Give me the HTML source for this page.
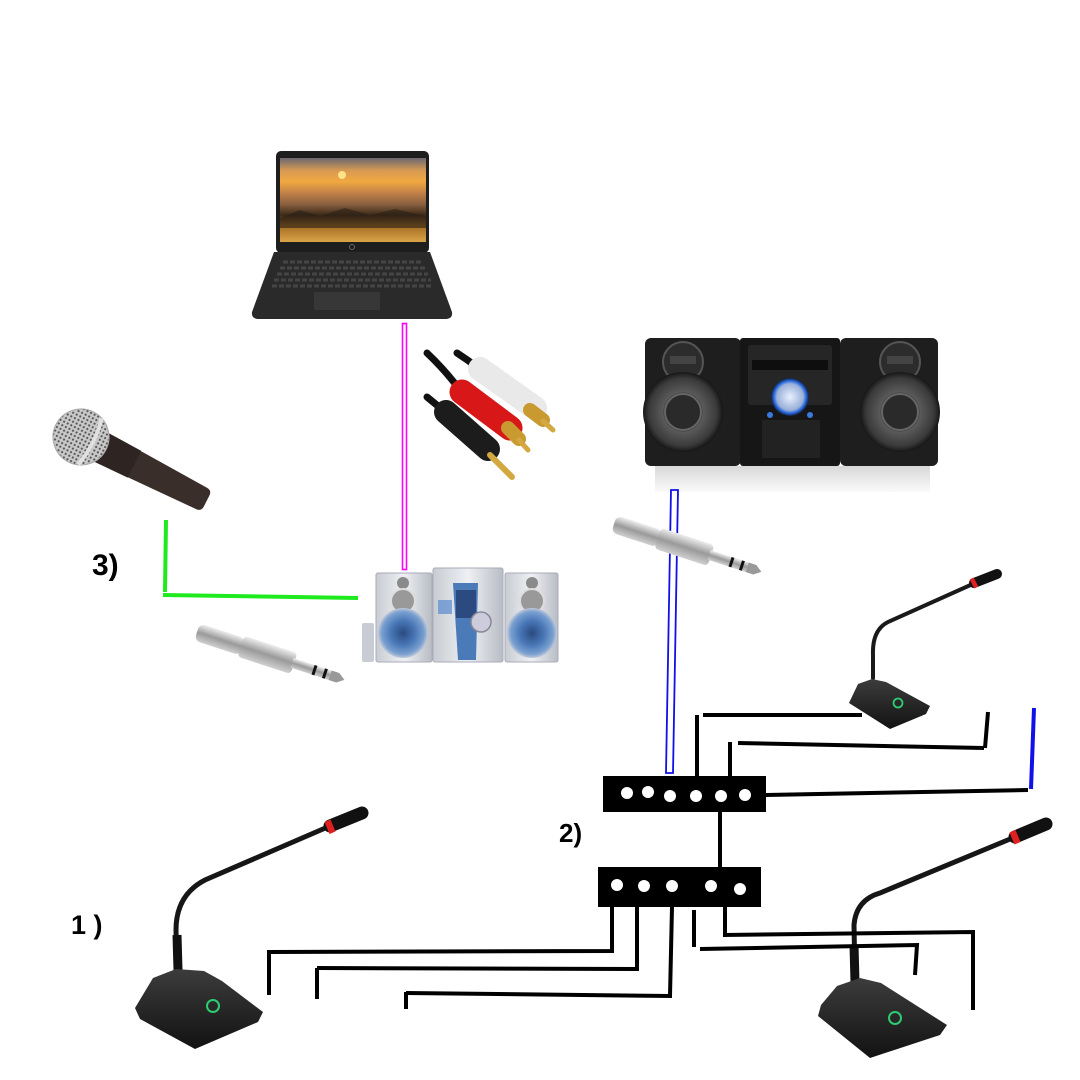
<!DOCTYPE html>
<html><head><meta charset="utf-8"><style>
html,body{margin:0;padding:0;background:#fff;}
svg{display:block;}
text{font-family:"Liberation Sans",sans-serif;font-weight:bold;fill:#000;}
</style></head><body>
<svg width="1080" height="1080" viewBox="0 0 1080 1080" xmlns="http://www.w3.org/2000/svg">
<defs>
<linearGradient id="scr" x1="0" y1="0" x2="0" y2="1">
<stop offset="0" stop-color="#6a6870"/><stop offset="0.15" stop-color="#d89a52"/><stop offset="0.28" stop-color="#f0a840"/>
<stop offset="0.42" stop-color="#c08048"/><stop offset="0.55" stop-color="#8a6040"/><stop offset="0.68" stop-color="#3a2a18"/>
<stop offset="0.8" stop-color="#a06a22"/><stop offset="1" stop-color="#dca448"/></linearGradient>
<linearGradient id="base" x1="0" y1="0" x2="0" y2="1"><stop offset="0" stop-color="#3c3c3c"/><stop offset="1" stop-color="#121212"/></linearGradient>
<linearGradient id="silver" x1="0" y1="0" x2="0" y2="1"><stop offset="0" stop-color="#eeeeee"/><stop offset="0.5" stop-color="#9a9a9a"/><stop offset="1" stop-color="#d0d0d0"/></linearGradient>
<linearGradient id="ss" x1="0" y1="0" x2="1" y2="0"><stop offset="0" stop-color="#c8ccd2"/><stop offset="0.5" stop-color="#eef0f4"/><stop offset="1" stop-color="#b8bcc4"/></linearGradient>
<radialGradient id="woof" cx="0.5" cy="0.5" r="0.5"><stop offset="0" stop-color="#2a4a80"/><stop offset="0.5" stop-color="#4a78b8"/><stop offset="0.85" stop-color="#7aa0d0"/><stop offset="1" stop-color="#c0c8d8"/></radialGradient>
<radialGradient id="bw" cx="0.5" cy="0.5" r="0.5"><stop offset="0" stop-color="#1a1a1a"/><stop offset="0.45" stop-color="#222"/><stop offset="0.5" stop-color="#5a5a5a"/><stop offset="0.85" stop-color="#3a3a3a"/><stop offset="1" stop-color="#161616"/></radialGradient>
<radialGradient id="knob" cx="0.5" cy="0.5" r="0.5"><stop offset="0" stop-color="#e8f0ff"/><stop offset="0.7" stop-color="#9ab0d8"/><stop offset="0.85" stop-color="#2a6ae0"/><stop offset="1" stop-color="#102040"/></radialGradient>
<pattern id="mesh" width="4" height="4" patternUnits="userSpaceOnUse"><rect width="4" height="4" fill="#c8c8c8"/><circle cx="2" cy="2" r="1.1" fill="#555"/></pattern>
<linearGradient id="refl" x1="0" y1="0" x2="0" y2="1"><stop offset="0" stop-color="#d8d8d8"/><stop offset="1" stop-color="#fafafa"/></linearGradient>
</defs>
<rect width="1080" height="1080" fill="#fff"/>

<!-- Laptop -->
<rect x="276" y="151" width="153" height="102" rx="5" fill="#1e1e1e"/>
<rect x="280" y="158" width="146" height="84" fill="url(#scr)"/>
<circle cx="342" cy="175" r="4" fill="#ffe38a"/>
<path d="M280 218 L300 210 L320 216 L345 208 L370 215 L395 209 L426 216 L426 228 L280 228 Z" fill="#2a2015" opacity="0.6"/>
<circle cx="352" cy="247" r="2.5" fill="none" stroke="#777" stroke-width="0.8"/>
<path d="M274 252 L430 252 L452 312 Q453 319 445 319 L259 319 Q251 319 252 312 Z" fill="#2a2a2a"/>
<g stroke="#454545" stroke-width="3" stroke-dasharray="5 2">
<line x1="283" y1="262" x2="422" y2="262"/><line x1="280" y1="268" x2="425" y2="268"/><line x1="277" y1="274" x2="428" y2="274"/><line x1="274" y1="280" x2="431" y2="280"/><line x1="272" y1="286" x2="433" y2="286"/></g>
<rect x="314" y="292" width="66" height="18" rx="1" fill="#373737"/>

<!-- RCA cables -->
<g stroke-linecap="round" fill="none">
<path d="M427 353 Q445 370 460 390" stroke="#111" stroke-width="7"/>
<path d="M457 353 Q468 360 478 368" stroke="#111" stroke-width="7"/>
<path d="M427 397 Q433 402 443 410" stroke="#111" stroke-width="7"/>
<line x1="480" y1="369" x2="535" y2="408" stroke="#f4f4f4" stroke-width="24"/>
<line x1="480" y1="369" x2="535" y2="408" stroke="#ddd" stroke-width="24" stroke-dasharray="2 4" opacity="0.5"/>
<line x1="530" y1="410" x2="543" y2="420" stroke="#c89a30" stroke-width="14"/>
<line x1="543" y1="421" x2="553" y2="430" stroke="#d4a840" stroke-width="5"/>
<line x1="462" y1="392" x2="510" y2="428" stroke="#d81818" stroke-width="25"/>
<line x1="508" y1="428" x2="519" y2="439" stroke="#c89a30" stroke-width="14"/>
<line x1="519" y1="440" x2="528" y2="450" stroke="#d4a840" stroke-width="5"/>
<line x1="446" y1="412" x2="488" y2="449" stroke="#1c1c1c" stroke-width="24"/>
<line x1="490" y1="455" x2="512" y2="477" stroke="#d4a840" stroke-width="6"/>
</g>

<!-- Pink double line -->
<rect x="402.5" y="323.5" width="4" height="246" fill="none" stroke="#ff00ff" stroke-width="1.6"/>

<!-- Handheld mic -->
<g transform="translate(81 437) rotate(27)">
<path d="M22 -16 L135 -12 Q141 -12 141 -6 L141 6 Q141 12 135 12 L22 16 Z" fill="#3a2e2b"/>
<path d="M22 -16 L60 -15 L60 15 L22 16 Z" fill="#2e2422"/>
<circle cx="0" cy="0" r="28" fill="url(#mesh)"/>
<circle cx="0" cy="0" r="28" fill="none" stroke="#aaa" stroke-width="1"/>
<path d="M10 -26 Q16 0 10 26" stroke="#e0e0e0" stroke-width="4" fill="none"/>
</g>

<!-- Label 3) -->
<text x="92" y="575" font-size="30">3)</text>

<!-- Green line -->
<line x1="166" y1="520" x2="165" y2="592" stroke="#1eea1e" stroke-width="4"/>
<line x1="163" y1="595" x2="358" y2="598" stroke="#1eea1e" stroke-width="4"/>

<!-- Jack plug 1 -->
<g transform="translate(197 632) rotate(18)">
<rect x="0" y="-9" width="48" height="18" rx="6" fill="url(#silver)"/>
<rect x="46" y="-11" width="56" height="22" rx="4" fill="url(#silver)"/>
<rect x="100" y="-5" width="40" height="10" fill="url(#silver)"/>
<rect x="122" y="-5" width="3" height="10" fill="#111"/><rect x="133" y="-5" width="3" height="10" fill="#111"/>
<path d="M140 -5 L148 -5 L155 0 L148 5 L140 5 Z" fill="#999"/>
</g>

<!-- Silver stereo -->
<rect x="362" y="623" width="12" height="39" rx="2" fill="#c8ccd4"/>
<rect x="376" y="573" width="56" height="89" rx="2" fill="url(#ss)" stroke="#aab" stroke-width="1"/>
<rect x="505" y="573" width="53" height="89" rx="2" fill="url(#ss)" stroke="#aab" stroke-width="1"/>
<rect x="433" y="568" width="70" height="94" rx="2" fill="url(#ss)" stroke="#aab" stroke-width="1"/>
<circle cx="403" cy="583" r="6" fill="#8a8a8a"/>
<circle cx="403" cy="601" r="12" fill="#999" stroke="#ddd" stroke-width="2"/>
<circle cx="403" cy="633" r="25" fill="url(#woof)"/>
<circle cx="532" cy="583" r="6" fill="#8a8a8a"/>
<circle cx="532" cy="601" r="12" fill="#999" stroke="#ddd" stroke-width="2"/>
<circle cx="532" cy="633" r="25" fill="url(#woof)"/>
<path d="M453 583 L478 583 L476 660 L458 660 Z" fill="#4a7ab8"/>
<rect x="456" y="590" width="20" height="28" fill="#2a4a80"/>
<rect x="438" y="600" width="14" height="14" fill="#5a8ad0" opacity="0.7"/>
<circle cx="481" cy="622" r="10" fill="#ccd" stroke="#889" stroke-width="1.5"/>

<!-- Black stereo -->
<rect x="655" y="466" width="275" height="26" fill="url(#refl)"/>
<rect x="645" y="338" width="96" height="128" rx="6" fill="#1e1e1e"/>
<rect x="840" y="338" width="98" height="128" rx="6" fill="#1e1e1e"/>
<rect x="740" y="338" width="100" height="128" rx="3" fill="#161616"/>
<rect x="748" y="345" width="84" height="60" rx="3" fill="#262626"/>
<rect x="752" y="360" width="76" height="10" fill="#0e0e0e"/>
<circle cx="683" cy="362" r="20" fill="#2c2c2c" stroke="#555" stroke-width="2"/>
<rect x="670" y="356" width="26" height="8" fill="#444"/>
<circle cx="683" cy="412" r="40" fill="url(#bw)"/>
<circle cx="683" cy="412" r="18" fill="#2a2a2a" stroke="#666" stroke-width="2"/>
<circle cx="900" cy="362" r="20" fill="#2c2c2c" stroke="#555" stroke-width="2"/>
<rect x="887" y="356" width="26" height="8" fill="#444"/>
<circle cx="900" cy="412" r="40" fill="url(#bw)"/>
<circle cx="900" cy="412" r="18" fill="#2a2a2a" stroke="#666" stroke-width="2"/>
<circle cx="790" cy="397" r="19" fill="url(#knob)"/>
<rect x="762" y="420" width="58" height="38" fill="#222"/>
<circle cx="770" cy="415" r="3" fill="#3a7ae0"/><circle cx="810" cy="415" r="3" fill="#3a7ae0"/>

<!-- Blue double line -->
<path d="M671 490 L678 490 L673 773 L666 773 Z" fill="none" stroke="#1010e8" stroke-width="1.8"/>

<!-- Jack plug 2 -->
<g transform="translate(614 524) rotate(18)">
<rect x="0" y="-9" width="48" height="18" rx="6" fill="url(#silver)"/>
<rect x="46" y="-11" width="56" height="22" rx="4" fill="url(#silver)"/>
<rect x="100" y="-5" width="40" height="10" fill="url(#silver)"/>
<rect x="122" y="-5" width="3" height="10" fill="#111"/><rect x="133" y="-5" width="3" height="10" fill="#111"/>
<path d="M140 -5 L148 -5 L155 0 L148 5 L140 5 Z" fill="#999"/>
</g>

<!-- Top-right stand mic -->
<path d="M873 678 L873 655 Q872 630 888 622 L975 583" fill="none" stroke="#1a1a1a" stroke-width="4" stroke-linecap="round"/>
<line x1="974" y1="583" x2="997" y2="574" stroke="#111" stroke-width="10" stroke-linecap="round"/>
<line x1="972" y1="584" x2="976" y2="582" stroke="#e02020" stroke-width="10"/>
<path d="M858 684 L872 679 L886 682 L930 706 L926 714 L890 729 L849 703 Z" fill="url(#base)"/>
<circle cx="898" cy="703" r="4.5" fill="none" stroke="#2ecc71" stroke-width="1.8"/>

<!-- Bottom-left stand mic -->
<path d="M177 970 L176 930 Q176 895 205 880 L330 826" fill="none" stroke="#161616" stroke-width="5" stroke-linecap="round"/>
<line x1="177" y1="935" x2="178" y2="970" stroke="#111" stroke-width="9"/>
<line x1="330" y1="826" x2="362" y2="813" stroke="#111" stroke-width="13" stroke-linecap="round"/>
<line x1="327" y1="828" x2="333" y2="825.5" stroke="#e02020" stroke-width="13"/>
<path d="M153 978 L176 969 L204 971 L222 981 L263 1012 L258 1022 L195 1049 L140 1019 L135 1008 Z" fill="url(#base)"/>
<circle cx="213" cy="1006" r="6" fill="none" stroke="#2ecc71" stroke-width="2"/>

<!-- Bottom-right stand mic -->
<path d="M855 982 L854 925 Q856 900 880 893 L1015 837" fill="none" stroke="#161616" stroke-width="5" stroke-linecap="round"/>
<line x1="854" y1="945" x2="855" y2="982" stroke="#111" stroke-width="9"/>
<line x1="1015" y1="837" x2="1046" y2="824" stroke="#111" stroke-width="13" stroke-linecap="round"/>
<line x1="1012" y1="838.5" x2="1018" y2="836" stroke="#e02020" stroke-width="13"/>
<path d="M837 986 L860 978 L881 983 L947 1025 L940 1035 L870 1058 L818 1016 L821 1005 Z" fill="url(#base)"/>
<circle cx="895" cy="1018" r="6" fill="none" stroke="#2ecc71" stroke-width="2"/>

<!-- Power strips -->
<rect x="603" y="776" width="163" height="36" fill="#000"/>
<g fill="#fff"><circle cx="627" cy="793" r="6"/><circle cx="648" cy="792" r="6"/><circle cx="670" cy="796" r="6"/><circle cx="696" cy="796" r="6"/><circle cx="721" cy="796" r="6"/><circle cx="745" cy="795" r="6"/></g>
<rect x="598" y="867" width="163" height="40" fill="#000"/>
<g fill="#fff"><circle cx="617" cy="885" r="6"/><circle cx="644" cy="886" r="6"/><circle cx="672" cy="886" r="6"/><circle cx="711" cy="886" r="6"/><circle cx="740" cy="889" r="6"/></g>

<!-- Black wires -->
<g stroke="#000" stroke-width="4" fill="none">
<line x1="720" y1="812" x2="720" y2="867"/>
<line x1="697" y1="776" x2="697" y2="715"/>
<line x1="703" y1="715" x2="862" y2="715"/>
<line x1="730" y1="776" x2="730" y2="742"/>
<line x1="738" y1="743" x2="984" y2="748"/>
<line x1="988" y1="712" x2="985" y2="748"/>
<line x1="766" y1="795" x2="1028" y2="790"/>
<polyline points="612,907 612,951 269,952"/>
<line x1="269" y1="950" x2="269" y2="995"/>
<polyline points="637,907 637,969 317,968"/>
<line x1="317" y1="968" x2="317" y2="999"/>
<polyline points="672,907 670,996 406,993"/>
<line x1="406" y1="992" x2="406" y2="1009"/>
<polyline points="694,910 694,947"/>
<polyline points="700,949 917,945 915,975"/>
<polyline points="725,906 725,935 973,932 973,1010"/>
</g>
<line x1="1034" y1="708" x2="1031" y2="789" stroke="#1010e8" stroke-width="4"/>

<!-- Labels -->
<text x="559" y="842" font-size="26">2)</text>
<text x="71" y="934" font-size="27">1 )</text>
</svg>
</body></html>
